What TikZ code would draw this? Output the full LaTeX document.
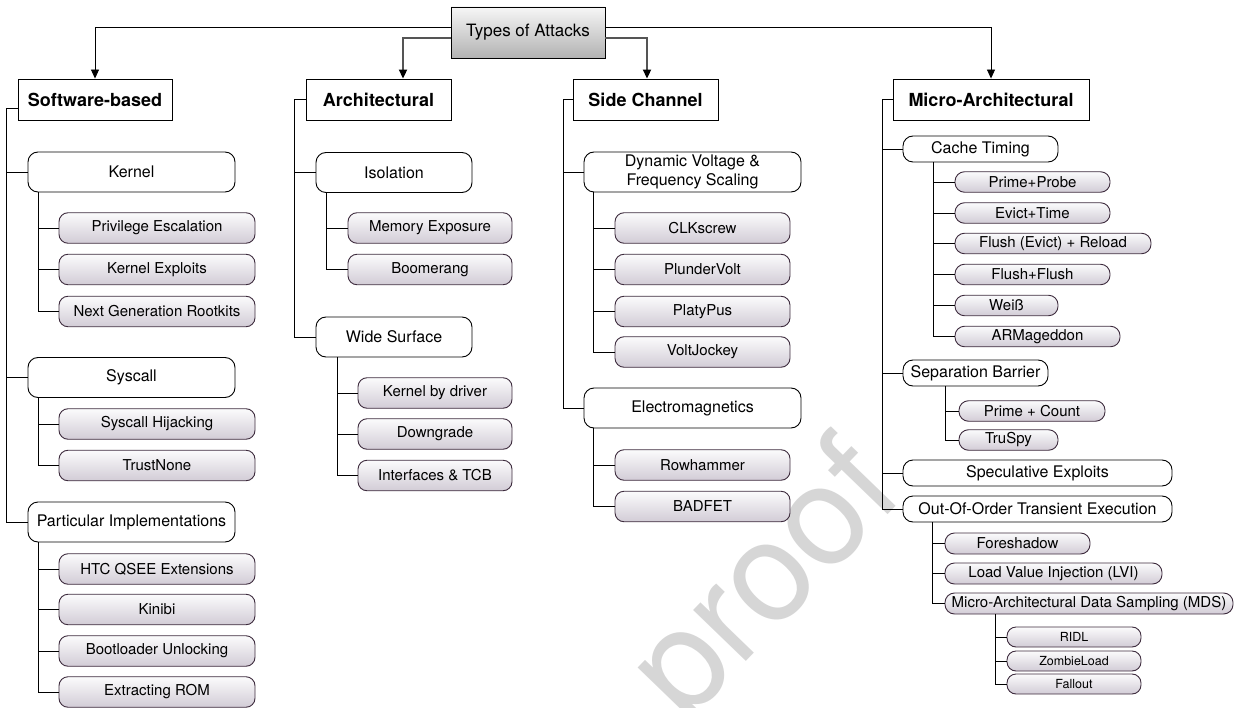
\documentclass[tikz,border=0pt]{standalone}
\usepackage{fontspec}
\setmainfont{TeX Gyre Heros}
\usetikzlibrary{arrows.meta}

\definecolor{leafline}{RGB}{62,44,62}
\definecolor{leaftop}{RGB}{251,251,252}
\definecolor{leafbot}{RGB}{210,204,214}
\definecolor{roottop}{RGB}{246,246,246}
\definecolor{rootbot}{RGB}{178,178,178}
\definecolor{feedgray}{RGB}{85,85,85}
\definecolor{marktext}{RGB}{214,214,214}

\tikzset{
  base/.style={inner sep=0pt, align=center, line width=0.9pt},
  rootbox/.style={base, draw=black, top color=roottop, bottom color=rootbot,
    font=\fontsize{17}{20}\selectfont},
  headbox/.style={base, draw=black, fill=white, font=\bfseries\fontsize{18}{21}\selectfont},
  subbox/.style={base, draw=black, fill=white, rounded corners=10pt,
    font=\fontsize{16}{19}\selectfont},
  leafbox/.style={base, draw=leafline, top color=leaftop, bottom color=leafbot,
    rounded corners=9pt, font=\fontsize{15}{18}\selectfont},
  pillbox/.style={leafbox, rounded corners=9.5pt},
  tinybox/.style={leafbox, rounded corners=9pt, font=\fontsize{12.5}{15}\selectfont},
  wire/.style={line width=0.9pt, draw=black},
  tip/.style={-{Triangle[length=9pt,width=8pt,color=black]}},
  feed/.style={line width=2pt, draw=feedgray, tip},
}

\begin{document}
\begin{tikzpicture}[x=1pt,y=-1pt]
\useasboundingbox (0,0) rectangle (1236,708);

% watermark behind everything
\node[rotate=46, text=marktext, font=\fontsize{140}{140}\selectfont, inner sep=0pt] (mark) at (770,585) {proof};

% root and the four families
\node[rootbox, minimum width=154pt, minimum height=51pt] (root) at (528,32.5) {Types of Attacks};
\node[headbox, minimum width=154pt, minimum height=41pt] (sw) at (95,99.5) {Software-based};
\node[headbox, minimum width=145pt, minimum height=41pt] (ar) at (378.5,99.5) {Architectural};
\node[headbox, minimum width=145pt, minimum height=41pt] (sc) at (645.5,99.5) {Side Channel};
\node[headbox, minimum width=196pt, minimum height=41pt] (ma) at (991,99.5) {Micro-Architectural};

\draw[wire, tip] ([yshift=5.5pt]root.west) -| (sw.north);
\draw[feed] ([yshift=-5.5pt]root.west) -| ([xshift=24.5pt]ar.north);
\draw[feed] ([yshift=-5.5pt]root.east) -| ([xshift=1.5pt]sc.north);
\draw[wire, tip] ([yshift=5.5pt]root.east) -| (ma.north);

% ---------------- Software-based ----------------
\node[subbox, minimum width=207pt, minimum height=40pt] (kern) at (131.5,172) {Kernel};
\node[leafbox, minimum width=196pt, minimum height=30.5pt] (pe) at (157,228) {Privilege Escalation};
\node[leafbox, minimum width=196pt, minimum height=30.5pt] (kexp) at (157,269.5) {Kernel Exploits};
\node[leafbox, minimum width=196pt, minimum height=30.5pt] (ngr) at (157,311.5) {Next Generation Rootkits};

\node[subbox, minimum width=207pt, minimum height=40pt] (sysc) at (131.5,377.5) {Syscall};
\node[leafbox, minimum width=196pt, minimum height=30.5pt] (shj) at (157,424) {Syscall Hijacking};
\node[leafbox, minimum width=196pt, minimum height=30.5pt] (tn) at (157,465.5) {TrustNone};

\node[subbox, minimum width=207pt, minimum height=40pt] (part) at (131.5,522) {Particular Implementations};
\node[leafbox, minimum width=196pt, minimum height=30.5pt] (htc) at (157,569) {HTC QSEE Extensions};
\node[leafbox, minimum width=196pt, minimum height=30.5pt] (kin) at (157,609.5) {Kinibi};
\node[leafbox, minimum width=196pt, minimum height=30.5pt] (boot) at (157,651) {Bootloader Unlocking};
\node[leafbox, minimum width=196pt, minimum height=30.5pt] (rom) at (157,692) {Extracting ROM};

\coordinate (swT) at ([xshift=-11pt,yshift=-8.5pt]sw.west);
\draw[wire] ([yshift=-8.5pt]sw.west) -- (swT) |- (part.west);
\draw[wire] (swT |- kern.west) -- (kern.west);
\draw[wire] (swT |- sysc.west) -- (sysc.west);

\coordinate (kT) at ([xshift=11pt]kern.south west);
\draw[wire] (kT) |- (ngr.west);
\draw[wire] (kT |- pe.west) -- (pe.west);
\draw[wire] (kT |- kexp.west) -- (kexp.west);

\coordinate (syT) at ([xshift=11pt]sysc.south west);
\draw[wire] (syT) |- (tn.west);
\draw[wire] (syT |- shj.west) -- (shj.west);

\coordinate (paT) at ([xshift=11pt]part.south west);
\draw[wire] (paT) |- (rom.west);
\draw[wire] (paT |- htc.west) -- (htc.west);
\draw[wire] (paT |- kin.west) -- (kin.west);
\draw[wire] (paT |- boot.west) -- (boot.west);

% ---------------- Architectural ----------------
\node[subbox, minimum width=156pt, minimum height=40pt] (iso) at (394,172.5) {Isolation};
\node[leafbox, minimum width=164pt, minimum height=30.5pt] (mem) at (430,228) {Memory Exposure};
\node[leafbox, minimum width=164pt, minimum height=30.5pt] (boom) at (430,269.5) {Boomerang};

\node[subbox, minimum width=156pt, minimum height=40pt] (wide) at (394,337) {Wide Surface};
\node[leafbox, minimum width=154pt, minimum height=30.5pt] (kbd) at (435,393) {Kernel by driver};
\node[leafbox, minimum width=154pt, minimum height=30.5pt] (down) at (435,434) {Downgrade};
\node[leafbox, minimum width=154pt, minimum height=30.5pt] (itcb) at (435,475.5) {Interfaces \& TCB};

\coordinate (arT) at ([xshift=-11pt]ar.west);
\draw[wire] (ar.west) -- (arT) |- (wide.west);
\draw[wire] (arT |- iso.west) -- (iso.west);

\coordinate (isT) at ([xshift=11pt]iso.south west);
\draw[wire] (isT) |- (boom.west);
\draw[wire] (isT |- mem.west) -- (mem.west);

\coordinate (wiT) at ([xshift=22pt]wide.south west);
\draw[wire] (wiT) |- (itcb.west);
\draw[wire] (wiT |- kbd.west) -- (kbd.west);
\draw[wire] (wiT |- down.west) -- (down.west);

% ---------------- Side Channel ----------------
\node[subbox, minimum width=217pt, minimum height=40pt] (dvfs) at (692.5,172)
  {Dynamic Voltage \&\\Frequency Scaling};
\node[leafbox, minimum width=175pt, minimum height=30.5pt] (clk) at (702.5,228) {CLKscrew};
\node[leafbox, minimum width=175pt, minimum height=30.5pt] (plv) at (702.5,269.5) {PlunderVolt};
\node[leafbox, minimum width=175pt, minimum height=30.5pt] (plat) at (702.5,311.5) {PlatyPus};
\node[leafbox, minimum width=175pt, minimum height=30.5pt] (vj) at (702.5,352) {VoltJockey};

\node[subbox, minimum width=217pt, minimum height=40pt] (elec) at (692.5,408) {Electromagnetics};
\node[leafbox, minimum width=175pt, minimum height=30.5pt] (row) at (702.5,465) {Rowhammer};
\node[leafbox, minimum width=175pt, minimum height=30.5pt] (bad) at (702.5,506.5) {BADFET};

\coordinate (scT) at ([xshift=-9pt]sc.west);
\draw[wire] (sc.west) -- (scT) |- (elec.west);
\draw[wire] (scT |- dvfs.west) -- (dvfs.west);

\coordinate (dvT) at ([xshift=10pt]dvfs.south west);
\draw[wire] (dvT) |- (vj.west);
\draw[wire] (dvT |- clk.west) -- (clk.west);
\draw[wire] (dvT |- plv.west) -- (plv.west);
\draw[wire] (dvT |- plat.west) -- (plat.west);

\coordinate (elT) at ([xshift=10pt]elec.south west);
\draw[wire] (elT) |- (bad.west);
\draw[wire] (elT |- row.west) -- (row.west);

% ---------------- Micro-Architectural ----------------
\node[subbox, minimum width=155pt, minimum height=26pt] (cache) at (980.5,149) {Cache Timing};
\node[pillbox, minimum width=155pt, minimum height=20.5pt] (pp) at (1032.5,182) {Prime+Probe};
\node[pillbox, minimum width=155pt, minimum height=20.5pt] (et) at (1032.5,213) {Evict+Time};
\node[pillbox, minimum width=196pt, minimum height=20.5pt] (fer) at (1053,243.5) {Flush (Evict) + Reload};
\node[pillbox, minimum width=155pt, minimum height=20.5pt] (ff) at (1032.5,274.5) {Flush+Flush};
\node[pillbox, minimum width=103pt, minimum height=20.5pt] (weiss) at (1006.5,305.5) {Weiß};
\node[pillbox, minimum width=165pt, minimum height=20.5pt] (arm) at (1037.5,336.5) {ARMageddon};

\node[subbox, minimum width=145pt, minimum height=26pt] (sep) at (975.5,373) {Separation Barrier};
\node[pillbox, minimum width=146pt, minimum height=20.5pt] (pc) at (1032,411) {Prime + Count};
\node[pillbox, minimum width=99pt, minimum height=20.5pt] (tru) at (1008.5,440) {TruSpy};

\node[subbox, minimum width=269pt, minimum height=26pt] (spec) at (1037.5,473) {Speculative Exploits};
\node[subbox, minimum width=269pt, minimum height=26pt] (ooo) at (1037.5,509) {Out-Of-Order Transient Execution};
\node[pillbox, minimum width=145pt, minimum height=21pt] (fore) at (1017.5,543.5) {Foreshadow};
\node[pillbox, minimum width=217pt, minimum height=21pt] (lvi) at (1053.5,573.5) {Load Value Injection (LVI)};
\node[pillbox, minimum width=288pt, minimum height=21pt] (mds) at (1089,603.5) {Micro-Architectural Data Sampling (MDS)};
\node[tinybox, minimum width=134pt, minimum height=20pt] (ridl) at (1074,637) {RIDL};
\node[tinybox, minimum width=134pt, minimum height=20pt] (zl) at (1074,661) {ZombieLoad};
\node[tinybox, minimum width=134pt, minimum height=20pt] (fo) at (1074,684) {Fallout};

\coordinate (maT) at ([xshift=-10pt]ma.west);
\draw[wire] (ma.west) -- (maT) |- (ooo.west);
\draw[wire] (maT |- cache.west) -- (cache.west);
\draw[wire] (maT |- sep.west) -- (sep.west);
\draw[wire] (maT |- spec.west) -- (spec.west);

\coordinate (caT) at ([xshift=31pt]cache.south west);
\draw[wire] (caT) |- (arm.west);
\draw[wire] (caT |- pp.west) -- (pp.west);
\draw[wire] (caT |- et.west) -- (et.west);
\draw[wire] (caT |- fer.west) -- (fer.west);
\draw[wire] (caT |- ff.west) -- (ff.west);
\draw[wire] (caT |- weiss.west) -- (weiss.west);

\coordinate (seT) at ([xshift=43pt]sep.south west);
\draw[wire] (seT) |- (tru.west);
\draw[wire] (seT |- pc.west) -- (pc.west);

\coordinate (ooT) at ([xshift=30pt]ooo.south west);
\draw[wire] (ooT) |- (mds.west);
\draw[wire] (ooT |- fore.west) -- (fore.west);
\draw[wire] (ooT |- lvi.west) -- (lvi.west);

\coordinate (mdT) at ([xshift=51pt]mds.south west);
\draw[wire] (mdT) |- (fo.west);
\draw[wire] (mdT |- ridl.west) -- (ridl.west);
\draw[wire] (mdT |- zl.west) -- (zl.west);
\end{tikzpicture}
\end{document}
